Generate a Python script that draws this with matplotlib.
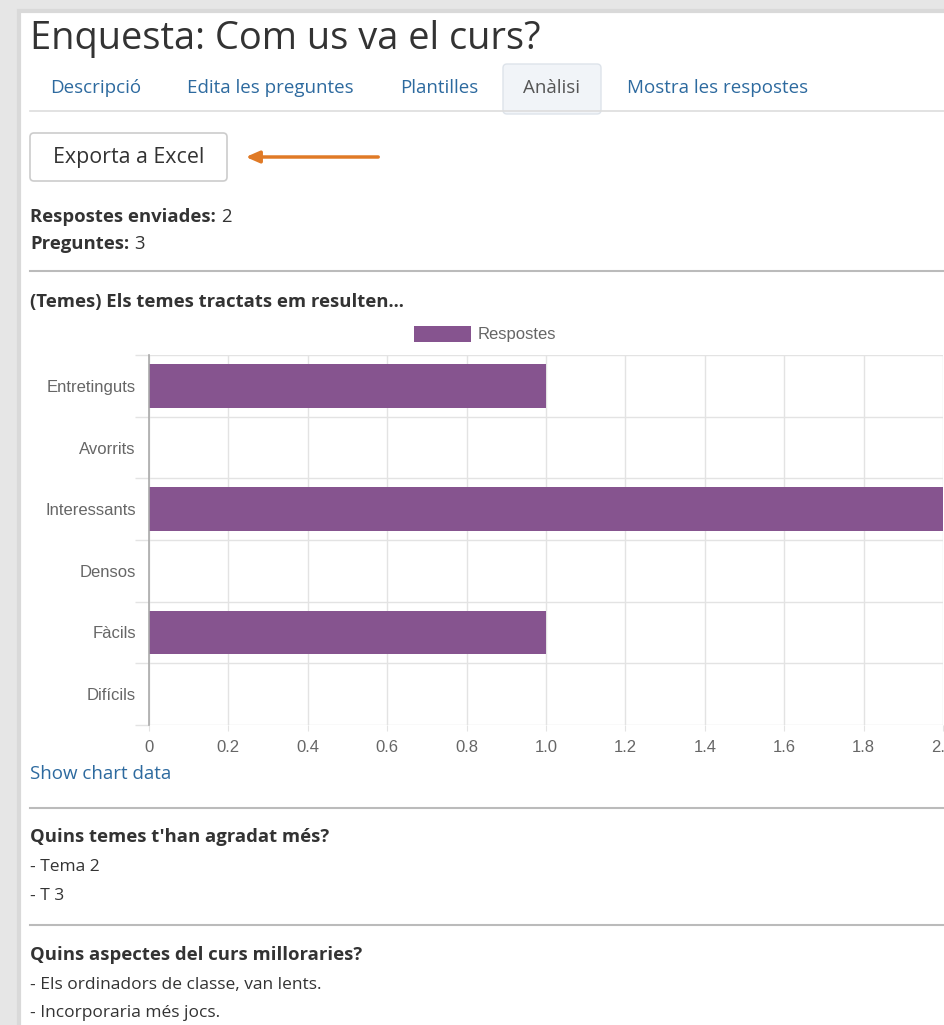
import matplotlib
matplotlib.use("Agg")
import matplotlib.pyplot as plt
from matplotlib.patches import Rectangle, FancyBboxPatch
import numpy as np

# chart data
categories = ["Entretinguts", "Avorrits", "Interessants", "Densos", "Fàcils", "Difícils"]
respostes = [1, 0, 2, 0, 1, 0]
x_ticks = [0, 0.2, 0.4, 0.6, 0.8, 1.0, 1.2, 1.4, 1.6, 1.8, 2.0]
x_labels = ["0", "0.2", "0.4", "0.6", "0.8", "1.0", "1.2", "1.4", "1.6", "1.8", "2.0"]

# page texts
title = "Enquesta: Com us va el curs?"
tabs = ["Descripció", "Edita les preguntes", "Plantilles", "Anàlisi", "Mostra les respostes"]
tab_x = [50, 187, 400, 523, 627]
stats = [("Respostes enviades:", "2"), ("Preguntes:", "3")]
question1 = "(Temes) Els temes tractats em resulten..."
question2 = "Quins temes t'han agradat més?"
answers2 = ["- Tema 2", "- T 3"]
question3 = "Quins aspectes del curs milloraries?"
answers3 = ["- Els ordinadors de classe, van lents.", "- Incorporaria més jocs."]

W, H = 945, 1025
PAGE = "Open Sans"
CHART = "Liberation Sans"
TXT = "#333333"
LINK = "#2d6a9f"
PURPLE = "#86548f"
BOLD_FS = 13.3
BODY_FS = 12.5

fig = plt.figure(figsize=(W / 100, H / 100), dpi=100)
fig.patch.set_facecolor("#e6e6e6")

# page layer in pixel coordinates
pg = fig.add_axes([0, 0, 1, 1])
pg.set_xlim(0, W)
pg.set_ylim(H, 0)
pg.axis("off")
pg.add_patch(Rectangle((19, 11), W, H, facecolor="white", edgecolor="#d9d9d9", lw=3))

pg.text(30, 39, title, fontsize=27.4, family=PAGE, color=TXT, va="center", ha="left")

pg.add_patch(FancyBboxPatch((503, 64), 98, 50, boxstyle="round,pad=0,rounding_size=4",
                            facecolor="#f1f4f8", edgecolor="#dde3ea", lw=1))
pg.plot([30, W], [111, 111], color="#dddddd", lw=1.2)
for t, x in zip(tabs, tab_x):
    c = "#555555" if t == "Anàlisi" else LINK
    pg.text(x, 88, t, fontsize=13.5, family=PAGE, color=c, va="center", ha="left")

pg.add_patch(FancyBboxPatch((30, 133), 197, 48, boxstyle="round,pad=0,rounding_size=4",
                            facecolor="white", edgecolor="#cccccc", lw=1.2))
pg.text(128.5, 158, "Exporta a Excel", fontsize=15.4, family=PAGE, color=TXT, va="center", ha="center")
pg.annotate("", xy=(243, 157), xytext=(381, 157),
            arrowprops=dict(arrowstyle="-|>,head_length=0.8,head_width=0.35", color="#e07a26", lw=2.5))

renderer = fig.canvas.get_renderer()
for (label, num), yy in zip(stats, [217, 244]):
    t = pg.text(30, yy, label, fontsize=BOLD_FS, family=PAGE, weight="bold", color=TXT, va="center")
    bb = t.get_window_extent(renderer=renderer)
    pg.text(bb.x1 + 5, yy, num, fontsize=BOLD_FS, family=PAGE, color=TXT, va="center")

for yy in [271, 808, 925]:
    pg.plot([30, W], [yy, yy], color="#bbbbbb", lw=1.5)

pg.text(30, 302, question1, fontsize=BOLD_FS, family=PAGE, weight="bold", color=TXT, va="center")
pg.text(30, 774, "Show chart data", fontsize=13.5, family=PAGE, color=LINK, va="center")
pg.text(30, 837, question2, fontsize=BOLD_FS, family=PAGE, weight="bold", color=TXT, va="center")
for i, a in enumerate(answers2):
    pg.text(30, 867 + 29 * i, a, fontsize=BODY_FS, family=PAGE, color=TXT, va="center")
pg.text(30, 955, question3, fontsize=BOLD_FS, family=PAGE, weight="bold", color=TXT, va="center")
for i, a in enumerate(answers3):
    pg.text(30, 985 + 28 * i, a, fontsize=BODY_FS, family=PAGE, color=TXT, va="center")

# chart
left, right, top, bottom = 149, 943, 355, 725
ax = fig.add_axes([left / W, (H - bottom) / H, (right - left) / W, (bottom - top) / H])
ax.set_facecolor("none")
y = np.arange(len(categories))
ax.barh(y, respostes, height=0.71, color=PURPLE, lw=0, label="Respostes", zorder=3)
ax.set_xlim(0, 2)
ax.set_ylim(len(categories) - 0.5, -0.5)
ax.set_yticks(y)
ax.set_yticklabels(categories, family=CHART, fontsize=12, color="#666666")
ax.set_yticks(np.arange(-0.5, len(categories)), minor=True)
ax.set_xticks(x_ticks)
ax.set_xticklabels(x_labels, family=CHART, fontsize=12, color="#666666")
ax.tick_params(axis="y", which="major", length=0, pad=9.5)
ax.tick_params(axis="y", which="minor", length=10, color="#e3e3e3", width=1)
ax.tick_params(axis="x", length=4, color="#e3e3e3", pad=7)
ax.grid(axis="y", which="minor", color="#e3e3e3", lw=1, zorder=0)
ax.grid(axis="x", which="major", color="#e3e3e3", lw=1, zorder=0)
for s in ["top", "right", "bottom"]:
    ax.spines[s].set_visible(False)
ax.spines["left"].set_color("#aaaaaa")
ax.spines["left"].set_linewidth(1.2)
ax.spines["left"].set_zorder(4)

leg = ax.legend(loc="center", bbox_to_anchor=(485.5 / W, (H - 334) / H),
                bbox_transform=fig.transFigure, frameon=False, handlelength=3.4,
                handleheight=1.1, handletextpad=0.42, borderpad=0,
                prop={"family": CHART, "size": 12})
for t in leg.get_texts():
    t.set_color("#666666")

fig.savefig("out.png", dpi=100)
